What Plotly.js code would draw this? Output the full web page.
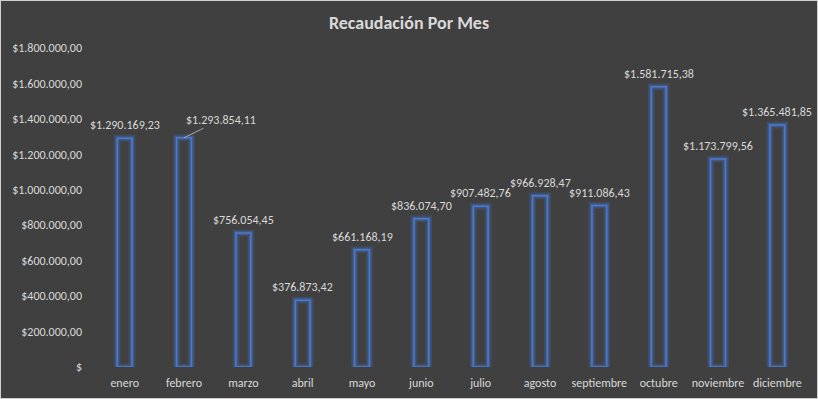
<!DOCTYPE html>
<html><head><meta charset="utf-8">
<script src="https://cdn.plot.ly/plotly-3.0.1.min.js"></script>
<style>html,body{margin:0;padding:0;background:#404040;}#c{width:816px;height:397px;border:1px solid #d0d0d0;}</style>
</head><body><div id="c"></div>
<script>
const months = ["enero","febrero","marzo","abril","mayo","junio","julio","agosto","septiembre","octubre","noviembre","diciembre"];
const recaudacion = [1290169.23,1293854.11,756054.45,376873.42,661168.19,836074.70,907482.76,966928.47,911086.43,1581715.38,1173799.56,1365481.85];
const yTickVals = [0,200000,400000,600000,800000,1000000,1200000,1400000,1600000,1800000];

function fmt(v){
  const parts = v.toFixed(2).split(".");
  const intp = parts[0].replace(/\B(?=(\d{3})+(?!\d))/g, ".");
  return "$" + intp + "," + parts[1];
}
const yTickText = yTickVals.map(v => v === 0 ? "$" : fmt(v));
const FONT = "Carlito, Calibri, 'Liberation Sans Narrow', 'Noto Sans', sans-serif";
const TXT = "#d9d9d9";

const glow1 = {type:"bar", x:months, y:recaudacion, hoverinfo:"skip",
  marker:{color:"rgba(0,0,0,0)", line:{color:"rgba(68,114,196,0.22)", width:7}}};
const glow2 = {type:"bar", x:months, y:recaudacion, hoverinfo:"skip",
  marker:{color:"rgba(0,0,0,0)", line:{color:"rgba(68,114,196,0.38)", width:4}}};
const main = {type:"bar", x:months, y:recaudacion,
  marker:{color:"rgba(0,0,0,0)", line:{color:"#4a7ad0", width:1.5}}};

const annotations = months.map((m,i) => {
  if (m === "febrero") {
    return {x:m, y:recaudacion[i], text:fmt(recaudacion[i]), showarrow:true, arrowhead:0,
      arrowwidth:1, arrowcolor:"#a6a6a6", ax:37, ay:-18, standoff:0,
      font:{family:FONT, size:12, color:TXT}};
  }
  return {x:m, y:recaudacion[i], text:fmt(recaudacion[i]), showarrow:false,
    yanchor:"bottom", yshift:4, font:{family:FONT, size:12, color:TXT}};
});

const layout = {
  width:816, height:397,
  paper_bgcolor:"#404040", plot_bgcolor:"#404040",
  margin:{l:94, r:10, t:47, b:31},
  barmode:"overlay", bargap:0.75, showlegend:false,
  title:{text:"<b>Recaudación Por Mes</b>", x:0.5, xanchor:"center", y:0.945, yanchor:"middle",
    font:{family:FONT, size:18, color:TXT}},
  xaxis:{type:"category", range:[-0.5, 11.5], autorange:false, automargin:false, showgrid:false, zeroline:false, showline:false, ticks:"",
    ticklabelstandoff:7, tickfont:{family:FONT, size:12, color:TXT}, ticklen:0},
  yaxis:{range:[0,1800000], autorange:false, automargin:false, tickvals:yTickVals, ticktext:yTickText, showgrid:false,
    zeroline:false, showline:false, ticks:"", ticklabelstandoff:12,
    tickfont:{family:FONT, size:12, color:TXT}},
  annotations:annotations
};
Plotly.newPlot("c", [glow1, glow2, main], layout, {displayModeBar:false, staticPlot:true});
</script></body></html>
